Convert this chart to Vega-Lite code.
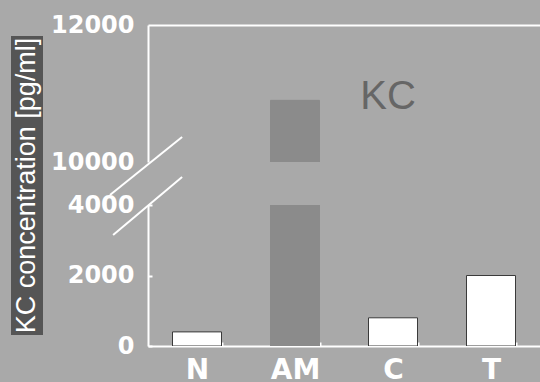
{
  "$schema": "https://vega.github.io/schema/vega-lite/v6.json",
  "background": "#a9a9a9",
  "padding": {"left": 11, "top": 13, "right": 0, "bottom": 0},
  "config": {"view": {"stroke": null}},
  "datasets": {
    "kc": [
      {"group": "N", "kc": 400},
      {"group": "AM", "kc": 10900},
      {"group": "C", "kc": 800},
      {"group": "T", "kc": 2000}
    ],
    "breaks": [
      {"x1": -0.097, "x2": 0.087, "y1": 4284, "y2": 5929},
      {"x1": -0.089, "x2": 0.087, "y1": 3149, "y2": 4794}
    ]
  },
  "spacing": 7,
  "hconcat": [
    {
      "spacing": 10,
      "bounds": "flush",
      "vconcat": [
        {
          "width": 32,
          "height": 1,
          "data": {"values": []},
          "mark": "rect"
        },
        {
          "width": 32,
          "height": 299,
          "view": {"fill": "#555555", "stroke": null},
          "data": {"values": [{"t": "KC concentration [pg/ml]"}]},
          "mark": {"type": "text", "angle": 270, "color": "white", "font": "Liberation Sans", "fontSize": 27, "baseline": "middle", "align": "center"},
          "encoding": {"text": {"field": "t"}}
        }
      ]
    },
    {
      "spacing": 43,
      "bounds": "flush",
      "vconcat": [
        {
          "width": 392,
          "height": 137,
          "layer": [
            {
              "data": {"name": "kc"},
              "transform": [{"filter": "datum.kc > 10000"}],
              "mark": {"type": "bar", "clip": true, "strokeWidth": 1},
              "encoding": {
                "x": {"field": "group", "type": "nominal",
                  "scale": {"domain": ["N", "AM", "C", "T"], "paddingInner": 0.5, "paddingOuter": 0.25},
                  "axis": {"orient": "top", "labels": false, "ticks": false, "title": null, "domainColor": "white", "domainWidth": 2}},
                "y": {"field": "kc", "type": "quantitative",
                  "scale": {"domain": [10000, 12000], "nice": false, "zero": false, "clamp": true},
                  "axis": {"values": [10000, 12000], "format": "d", "title": null, "grid": false, "domainColor": "white", "domainWidth": 2, "tickColor": "white", "tickSize": 0, "labelColor": "white", "labelFont": "DejaVu Sans", "labelFontWeight": "bold", "labelFontSize": 24, "labelPadding": 14}},
                "fill": {"field": "group", "type": "nominal", "scale": {"domain": ["N", "AM", "C", "T"], "range": ["#ffffff", "#8b8b8b", "#ffffff", "#ffffff"]}, "legend": null},
                "stroke": {"field": "group", "type": "nominal", "scale": {"domain": ["N", "AM", "C", "T"], "range": ["#3a3a3a", "#8b8b8b", "#3a3a3a", "#3a3a3a"]}, "legend": null}
              }
            },
            {
              "data": {"values": [{"label": "KC"}]},
              "mark": {"type": "text", "font": "Liberation Sans", "fontSize": 40, "color": "#666666", "baseline": "middle", "dx": -5},
              "encoding": {
                "x": {"datum": "C"},
                "y": {"datum": 10950},
                "text": {"field": "label"}
              }
            }
          ]
        },
        {
          "width": 392,
          "height": 141,
          "layer": [
            {
              "data": {"name": "kc"},
              "mark": {"type": "bar", "clip": true, "strokeWidth": 1},
              "encoding": {
                "x": {"field": "group", "type": "nominal",
                  "scale": {"domain": ["N", "AM", "C", "T"], "paddingInner": 0.5, "paddingOuter": 0.25},
                  "axis": {"orient": "bottom", "title": null, "labelAngle": 0, "domainColor": "white", "domainWidth": 2, "tickBand": "extent", "tickColor": "white", "tickSize": -4, "tickWidth": 2, "labelColor": "white", "labelFont": "DejaVu Sans", "labelFontWeight": "bold", "labelFontSize": 28, "labelPadding": 14}},
                "y": {"field": "kc", "type": "quantitative",
                  "scale": {"domain": [0, 4000], "nice": false, "clamp": true},
                  "axis": {"values": [0, 2000, 4000], "format": "d", "title": null, "grid": false, "domainColor": "white", "domainWidth": 2, "tickColor": "white", "tickSize": -4, "tickWidth": 2, "labelColor": "white", "labelFont": "DejaVu Sans", "labelFontWeight": "bold", "labelFontSize": 24, "labelPadding": 18}},
                "fill": {"field": "group", "type": "nominal", "scale": {"domain": ["N", "AM", "C", "T"], "range": ["#ffffff", "#8b8b8b", "#ffffff", "#ffffff"]}, "legend": null},
                "stroke": {"field": "group", "type": "nominal", "scale": {"domain": ["N", "AM", "C", "T"], "range": ["#3a3a3a", "#8b8b8b", "#3a3a3a", "#3a3a3a"]}, "legend": null}
              }
            },
            {
              "data": {"name": "breaks"},
              "mark": {"type": "rule", "color": "white", "strokeWidth": 2, "clip": false},
              "encoding": {
                "x": {"field": "x1", "type": "quantitative", "scale": {"domain": [0, 1]}, "axis": null},
                "x2": {"field": "x2"},
                "y": {"field": "y1", "type": "quantitative", "scale": {"domain": [0, 4000], "nice": false}, "axis": null},
                "y2": {"field": "y2"}
              }
            }
          ],
          "resolve": {"scale": {"x": "independent", "y": "independent"}}
        }
      ]
    }
  ]
}
